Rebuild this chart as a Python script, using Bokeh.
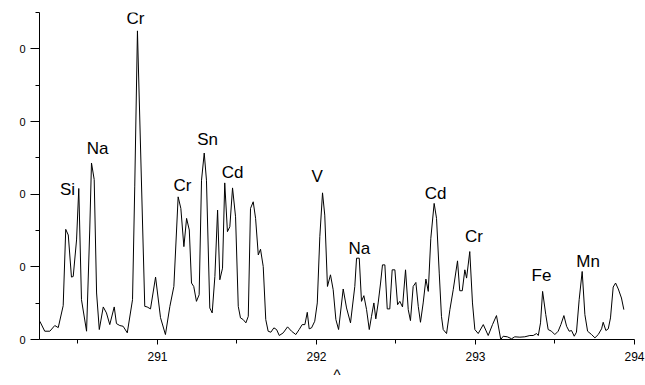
from bokeh.plotting import figure
from bokeh.models import ColumnDataSource, FixedTicker, Range1d
from bokeh.core.properties import value
from bokeh.embed import file_html
from bokeh.resources import INLINE

wavelength = [
    290.260, 290.291, 290.323, 290.354, 290.376, 290.407, 290.423, 290.439, 290.459, 290.470,
    290.491, 290.505, 290.522, 290.554, 290.574, 290.585, 290.602, 290.617, 290.634, 290.659,
    290.679, 290.700, 290.728, 290.742, 290.763, 290.784, 290.810, 290.843, 290.857, 290.874,
    290.920, 290.935, 290.956, 290.988, 291.019, 291.050, 291.078, 291.103, 291.130, 291.147,
    291.166, 291.183, 291.200, 291.214, 291.228, 291.245, 291.262, 291.277, 291.294, 291.308,
    291.329, 291.344, 291.361, 291.378, 291.392, 291.409, 291.423, 291.440, 291.455, 291.472,
    291.491, 291.508, 291.522, 291.539, 291.556, 291.571, 291.585, 291.602, 291.617, 291.634,
    291.648, 291.665, 291.681, 291.696, 291.713, 291.732, 291.749, 291.766, 291.791, 291.818,
    291.843, 291.870, 291.891, 291.910, 291.927, 291.942, 291.954, 291.969, 291.989, 292.005,
    292.021, 292.038, 292.052, 292.069, 292.088, 292.105, 292.122, 292.139, 292.168, 292.189,
    292.214, 292.241, 292.252, 292.269, 292.283, 292.298, 292.315, 292.332, 292.346, 292.361,
    292.373, 292.388, 292.403, 292.415, 292.430, 292.445, 292.461, 292.476, 292.493, 292.510,
    292.524, 292.541, 292.560, 292.577, 292.591, 292.608, 292.625, 292.640, 292.654, 292.671,
    292.688, 292.703, 292.719, 292.740, 292.755, 292.772, 292.786, 292.797, 292.818, 292.839,
    292.860, 292.887, 292.901, 292.917, 292.933, 292.944, 292.964, 292.981, 292.996, 293.017,
    293.049, 293.080, 293.107, 293.132, 293.159, 293.174, 293.200, 293.227, 293.247, 293.279,
    293.310, 293.342, 293.363, 293.384, 293.395, 293.409, 293.422, 293.442, 293.457, 293.478,
    293.499, 293.520, 293.537, 293.556, 293.573, 293.589, 293.604, 293.621, 293.635, 293.652,
    293.671, 293.688, 293.705, 293.730, 293.751, 293.772, 293.793, 293.803, 293.820, 293.835,
    293.849, 293.866, 293.881, 293.898, 293.918, 293.933,
]

intensity = [
    25.1, 11.4, 11.4, 19.2, 16.4, 46.6, 151.6, 143.8, 85.9, 86.7,
    137.0, 207.8, 54.8, 11.4, 150.7, 242.9, 220.1, 64.0, 13.7, 44.8,
    36.6, 20.5, 44.8, 21.9, 19.2, 18.2, 9.2, 54.8, 210.0, 424.7,
    45.6, 44.8, 42.1, 85.9, 30.1, 6.8, 45.6, 73.0, 196.3, 180.4,
    127.8, 166.7, 150.7, 77.7, 73.0, 52.5, 61.6, 219.2, 256.6, 219.2,
    43.4, 36.6, 86.7, 178.1, 82.2, 98.2, 215.5, 148.4, 155.2, 208.6,
    168.9, 45.6, 29.7, 27.4, 22.9, 31.9, 180.4, 189.5, 166.7, 116.4,
    124.2, 100.4, 27.4, 11.4, 10.0, 16.0, 13.7, 5.5, 9.2, 17.4,
    11.4, 6.8, 13.7, 20.5, 20.5, 37.4, 14.7, 16.0, 25.1, 50.3,
    141.5, 201.8, 171.2, 73.0, 89.0, 68.5, 27.4, 13.7, 69.5, 43.4,
    22.9, 73.0, 111.9, 111.9, 52.5, 60.3, 41.1, 13.7, 31.9, 50.3,
    28.4, 50.3, 77.7, 102.7, 102.7, 42.1, 42.1, 95.9, 95.9, 47.9,
    52.5, 44.8, 95.9, 41.1, 26.0, 73.0, 78.5, 45.6, 23.7, 50.3,
    83.2, 66.2, 139.3, 187.3, 166.7, 91.4, 31.9, 13.7, 8.2, 41.1,
    68.5, 108.2, 67.1, 67.1, 95.9, 84.5, 121.0, 50.3, 13.7, 8.2,
    20.5, 5.5, 20.5, 32.9, 0.0, 4.5, 3.7, 1.0, 3.7, 3.2,
    3.7, 5.5, 5.5, 8.2, 5.5, 22.9, 66.2, 34.2, 13.7, 11.4,
    6.8, 11.4, 20.5, 32.9, 18.2, 11.4, 12.3, 4.5, 10.0, 54.8,
    93.6, 34.2, 11.4, 6.8, 2.3, 6.8, 14.7, 23.7, 12.3, 14.7,
    29.7, 72.2, 77.7, 69.5, 57.1, 41.1,
]

peak_names = ["Si", "Na", "Cr", "Cr", "Sn", "Cd", "V", "Na", "Cd", "Cr", "Fe", "Mn"]
peak_x = [290.434, 290.623, 290.862, 291.157, 291.315, 291.472, 292.004, 292.269, 292.749, 292.991, 293.415, 293.708]
peak_y = [207.0, 263.0, 442.0, 212.6, 275.0, 229.8, 225.0, 124.8, 201.0, 142.0, 87.4, 107.4]

x_ticks = [291, 292, 293, 294]
x_minor = [290.5, 291.5, 292.5, 293.5]
y_ticks = [0, 100, 200, 300, 400]
y_minor = [50, 150, 250, 350, 450]
y_tick_labels = {0: "0", 100: "0", 200: "0", 300: "0", 400: "0"}
x_title = "^"

FONT = "Liberation Sans"

p = figure(width=645, height=385, output_backend="svg", toolbar_location=None,
           x_range=Range1d(290.258, 294.0), y_range=Range1d(0, 450),
           min_border_left=39, min_border_right=11, min_border_top=12, min_border_bottom=45)
p.outline_line_color = None
p.grid.visible = False
p.background_fill_color = "white"
p.border_fill_color = "white"

src = ColumnDataSource(dict(x=wavelength, y=intensity))
p.line("x", "y", source=src, line_color="black", line_width=1)

lab = ColumnDataSource(dict(x=peak_x, y=peak_y, t=peak_names))
p.text("x", "y", text="t", source=lab, text_align="center", text_baseline="middle",
       text_font=value(FONT), text_font_size="17px", text_color="black")

xa = p.xaxis[0]
xa.ticker = FixedTicker(ticks=x_ticks, minor_ticks=x_minor)
xa.major_tick_out = 5
xa.major_tick_in = 0
xa.minor_tick_out = 4
xa.minor_tick_in = 0
xa.major_label_standoff = 7
xa.major_label_text_font = FONT
xa.major_label_text_font_size = "12px"
xa.major_label_text_color = "black"
xa.axis_line_color = "black"
xa.major_tick_line_color = "black"
xa.minor_tick_line_color = "black"
xa.axis_label = x_title
xa.axis_label_text_font = FONT
xa.axis_label_text_font_size = "15px"
xa.axis_label_text_font_style = "normal"
xa.axis_label_text_color = "black"
xa.axis_label_standoff = 2

ya = p.yaxis[0]
ya.ticker = FixedTicker(ticks=y_ticks, minor_ticks=y_minor)
ya.major_label_overrides = y_tick_labels
ya.major_tick_out = 9
ya.major_tick_in = 0
ya.minor_tick_out = 4
ya.minor_tick_in = 0
ya.major_label_standoff = 5
ya.major_label_text_font = FONT
ya.major_label_text_font_size = "11px"
ya.major_label_text_color = "black"
ya.axis_line_color = "black"
ya.major_tick_line_color = "black"
ya.minor_tick_line_color = "black"

open("out.html", "w").write(file_html(p, INLINE))
